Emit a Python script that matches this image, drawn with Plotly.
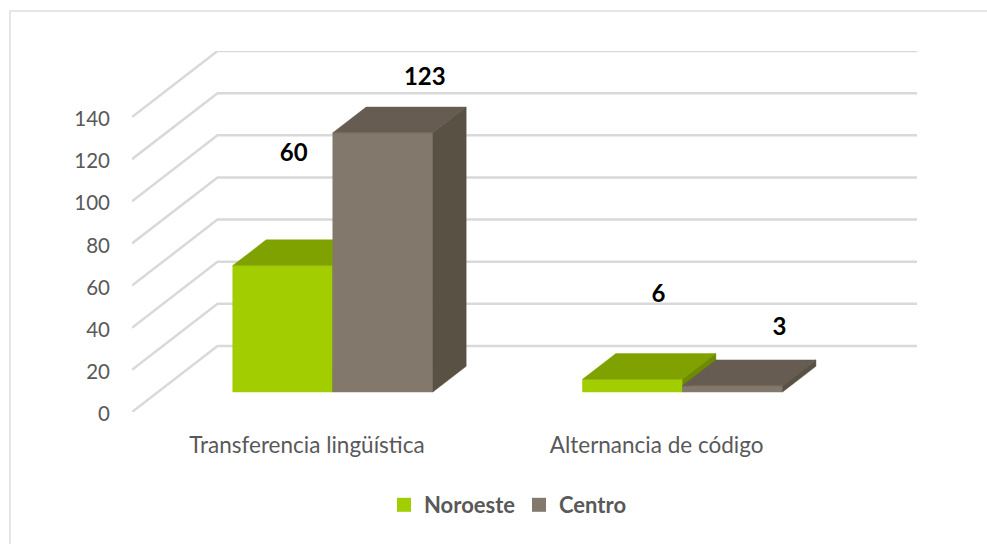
import plotly.graph_objects as go

categories = ["Transferencia lingüística", "Alternancia de código"]
noroeste = [60, 6]
centro = [123, 3]
series_names = ["Noroeste", "Centro"]
y_ticks = [0, 20, 40, 60, 80, 100, 120, 140]

W, H = 987, 544
ML, MR, MT, MB = 132, 70, 51, 132
PX_X = 349.75            # pixels per category
PX_Y = 2.107             # pixels per value unit
WALL_DX, WALL_DY = 85.5 / PX_X, 66 / PX_Y   # shear of the floor, front to back
BAR_W = 0.286
D_FRONT, D_BACK = 0.303, 0.693              # bar depth along the floor

GRID = "#D9D9D9"
FRONT = ["#A2CD00", "#83786C"]
TOP = ["#80A200", "#675C51"]
SIDE = ["#6E8B00", "#5A5145"]
TEXT = "#595959"
FONT = "Lato"

def proj(x, v, d):
    return x + d * WALL_DX, v + d * WALL_DY

fig = go.Figure()

# walls / gridlines
x_left, x_right = -0.5, 1.5
for t in y_ticks:
    a = proj(x_left, t, 0)
    b = proj(x_left, t, 1)
    c = proj(x_right, t, 1)
    fig.add_trace(go.Scatter(x=[a[0], b[0], c[0]], y=[a[1], b[1], c[1]], mode="lines",
                             line=dict(color=GRID, width=2.5), showlegend=False, hoverinfo="skip"))

def poly(pts, color, name):
    fig.add_trace(go.Scatter(x=[p[0] for p in pts] + [pts[0][0]], y=[p[1] for p in pts] + [pts[0][1]],
                             mode="lines", fill="toself", fillcolor=color,
                             line=dict(color=color, width=0.5), name=name,
                             showlegend=False, hoverinfo="skip"))

for c in range(len(categories)):
    for s, vals in enumerate([noroeste, centro]):
        v = vals[c]
        x0 = c + (s - 1) * BAR_W
        x1 = x0 + BAR_W
        poly([proj(x0, 0, D_FRONT), proj(x1, 0, D_FRONT), proj(x1, v, D_FRONT), proj(x0, v, D_FRONT)], FRONT[s], series_names[s])
        poly([proj(x0, v, D_FRONT), proj(x1, v, D_FRONT), proj(x1, v, D_BACK), proj(x0, v, D_BACK)], TOP[s], series_names[s])
        poly([proj(x1, 0, D_FRONT), proj(x1, 0, D_BACK), proj(x1, v, D_BACK), proj(x1, v, D_FRONT)], SIDE[s], series_names[s])

# data labels (offsets in pixels from the centre of the bar's top front edge)
label_off = [[(11, 111), (42, 54), ], [(26, 83), (47, 57)]]
lx, ly, lt = [], [], []
for c in range(len(categories)):
    for s, vals in enumerate([noroeste, centro]):
        v = vals[c]
        px, pv = proj(c + (s - 0.5) * BAR_W, v, D_FRONT)
        lx.append(px + label_off[c][s][0] / PX_X)
        ly.append(pv + label_off[c][s][1] / PX_Y)
        lt.append(str(v))
fig.add_trace(go.Scatter(x=lx, y=ly, text=lt, mode="text", textposition="middle center",
                         textfont=dict(family=FONT, size=24, color="#000000", weight="bold"),
                         showlegend=False, hoverinfo="skip", cliponaxis=False))

# legend keys
for s in range(2):
    fig.add_trace(go.Scatter(x=[None], y=[None], mode="markers", name=series_names[s],
                             marker=dict(symbol="square", size=14, color=FRONT[s])))

plot_w, plot_h = W - ML - MR, H - MT - MB
def px2paper_x(px):
    return (px - ML) / plot_w
def px2paper_y(py):
    return (H - MB - py) / plot_h

fig.update_layout(
    width=W, height=H, autosize=False,
    margin=dict(l=ML, r=MR, t=MT, b=MB, pad=0),
    paper_bgcolor="white", plot_bgcolor="rgba(0,0,0,0)",
    font=dict(family=FONT, color=TEXT, size=19),
    xaxis=dict(range=[x_left, x_right + WALL_DX], tickmode="array", tickvals=list(range(len(categories))),
               ticktext=categories, showgrid=False, zeroline=False, showline=False, ticks="",
               ticklabelstandoff=17, tickfont=dict(size=22.5, family=FONT, color=TEXT)),
    yaxis=dict(range=[0, plot_h / PX_Y], tickmode="array", tickvals=y_ticks, showgrid=False,
               zeroline=False, showline=False, ticks="", ticklabelstandoff=21, ticklabelshift=2,
               tickfont=dict(size=20.5, family=FONT, color=TEXT)),
    legend=dict(orientation="h", x=px2paper_x(384), y=px2paper_y(505), xanchor="left", yanchor="middle",
                entrywidth=90, entrywidthmode="pixels",
                font=dict(family=FONT, size=22, color=TEXT, weight="bold"), bgcolor="rgba(0,0,0,0)"),
    shapes=[dict(type="path", xref="paper", yref="paper",
                 path=f"M {px2paper_x(10)} {px2paper_y(H)} L {px2paper_x(10)} {px2paper_y(11)} L {px2paper_x(W)} {px2paper_y(11)}",
                 line=dict(color="#DEDEDE", width=1.5))],
)

fig.write_html("out.html", config={"displayModeBar": False},
               post_script="document.body.style.margin='0';document.documentElement.style.overflow='hidden';")
